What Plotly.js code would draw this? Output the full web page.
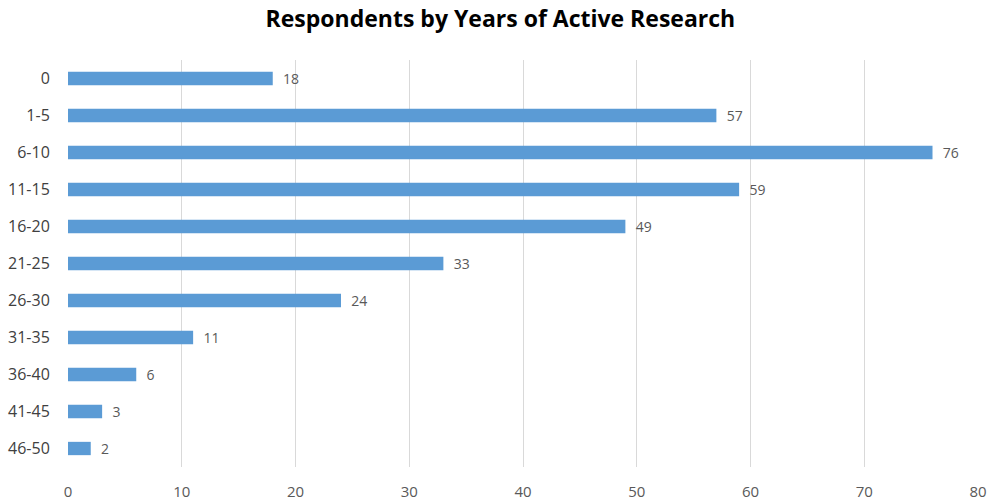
<!DOCTYPE html>
<html>
<head>
<meta charset="utf-8">
<script src="https://cdn.plot.ly/plotly-3.0.1.min.js"></script>
<style>html,body{margin:0;padding:0;background:#fff;}#chart{width:987px;height:503px;}</style>
</head>
<body>
<div id="chart"></div>
<script>
const categories = ["0","1-5","6-10","11-15","16-20","21-25","26-30","31-35","36-40","41-45","46-50"];
const respondents = [18,57,76,59,49,33,24,11,6,3,2];
const xTicks = [0,10,20,30,40,50,60,70,80];
const chartTitle = "Respondents by Years of Active Research";
const FONT = '"Open Sans", sans-serif';

const trace = {
  type: 'bar',
  orientation: 'h',
  y: categories,
  x: respondents,
  marker: {color: '#5B9BD5'},
  width: 0.36,
  text: respondents.map(v => '\u00a0\u00a0' + v),
  textposition: 'outside',
  constraintext: 'none',
  textfont: {family: FONT, size: 14, color: '#595959'},
  cliponaxis: false,
  hoverinfo: 'none'
};

const layout = {
  width: 987, height: 503,
  margin: {l: 68, r: 9, t: 60, b: 36},
  paper_bgcolor: '#fff', plot_bgcolor: '#fff',
  showlegend: false,
  title: {text: '<b>' + chartTitle + '</b>', x: 0.507, xanchor: 'center', y: 0.962, yanchor: 'middle',
          font: {family: FONT, size: 23, color: '#000'}},
  xaxis: {range: [0, 80], tickvals: xTicks, ticktext: xTicks.map(String),
          showgrid: true, gridcolor: '#D9D9D9', gridwidth: 1, zeroline: false, showline: false,
          ticks: 'outside', ticklen: 11, tickcolor: 'rgba(0,0,0,0)',
          tickfont: {family: FONT, size: 15, color: '#595959'}, fixedrange: true},
  yaxis: {type: 'category', categoryorder: 'array', categoryarray: categories, autorange: 'reversed',
          showgrid: false, zeroline: false, showline: false,
          ticks: 'outside', ticklen: 14, tickcolor: 'rgba(0,0,0,0)',
          tickfont: {family: FONT, size: 16, color: '#404040'}, fixedrange: true}
};

Plotly.newPlot('chart', [trace], layout, {displayModeBar: false, staticPlot: true});
</script>
</body>
</html>
